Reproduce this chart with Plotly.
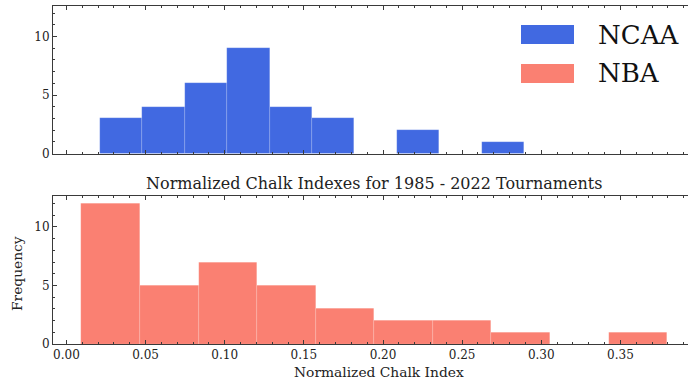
import plotly.graph_objects as go
from plotly.subplots import make_subplots

# ---- data ----
ncaa_edges = [0.0210, 0.0478, 0.0747, 0.1015, 0.1283, 0.1551, 0.1819, 0.2087, 0.2355, 0.2623, 0.2891]
ncaa_counts = [3, 4, 6, 9, 4, 3, 0, 2, 0, 1]
nba_edges = [0.0095, 0.0465, 0.0835, 0.1205, 0.1575, 0.1945, 0.2315, 0.2685, 0.3055, 0.3425, 0.3795]
nba_counts = [12, 5, 7, 5, 3, 2, 2, 1, 0, 1]
x_ticks = [0.00, 0.05, 0.10, 0.15, 0.20, 0.25, 0.30, 0.35]
x_tick_labels = ["0.00", "0.05", "0.10", "0.15", "0.20", "0.25", "0.30", "0.35"]
y_ticks = [0, 5, 10]

series_names = ["NCAA", "NBA"]
series_colors = ["#4169E1", "#FA8072"]

title_text = "Normalized Chalk Indexes for 1985 - 2022 Tournaments"
x_title = "Normalized Chalk Index"
y_title = "Frequency"

FONT = "DejaVu Serif"
AX = "#3a3a3a"

W, H = 688, 382
ML, MR, MT, MB = 53, 0, 6, 38

def centers(edges):
    return [(a + b) / 2 for a, b in zip(edges[:-1], edges[1:])]

def widths(edges):
    return [b - a for a, b in zip(edges[:-1], edges[1:])]

fig = make_subplots(rows=2, cols=1, shared_xaxes=True, vertical_spacing=0.128)

edge_line = dict(color="rgba(255,255,255,0.3)", width=0.5)
fig.add_trace(go.Bar(x=centers(ncaa_edges), y=ncaa_counts, width=widths(ncaa_edges),
                     marker=dict(color=series_colors[0], line=edge_line),
                     name=series_names[0], showlegend=False), row=1, col=1)
fig.add_trace(go.Bar(x=centers(nba_edges), y=nba_counts, width=widths(nba_edges),
                     marker=dict(color=series_colors[1], line=edge_line),
                     name=series_names[1], showlegend=False), row=2, col=1)

xrange = [-0.0085, 0.3927]
common_x = dict(range=xrange, showline=True, linecolor=AX, linewidth=1, mirror="ticks",
                ticks="inside", ticklen=4, tickcolor=AX, tickwidth=1,
                tickvals=x_ticks, ticktext=x_tick_labels, showgrid=False, zeroline=False,
                automargin=False,
                minor=dict(ticks="inside", ticklen=2, dtick=0.01, tick0=0, tickcolor=AX, tickwidth=1, showgrid=False),
                tickfont=dict(family=FONT, size=12, color="#222"))
common_y = dict(range=[0, 12.6], showline=True, linecolor=AX, linewidth=1,
                ticks="inside", ticklen=4, tickcolor=AX, tickwidth=1,
                tickvals=y_ticks, showgrid=False, zeroline=False, automargin=False,
                minor=dict(ticks="inside", ticklen=2, dtick=1, tick0=0, tickcolor=AX, tickwidth=1, showgrid=False),
                tickfont=dict(family=FONT, size=12, color="#222"))

fig.update_xaxes(**common_x)
fig.update_xaxes(showticklabels=False, row=1, col=1)
fig.update_yaxes(**common_y)

plot_h = H - MT - MB
sub_h = 147.6 / plot_h
fig.update_layout(
    yaxis=dict(domain=[1 - sub_h, 1]),
    yaxis2=dict(domain=[0, sub_h]),
)

fig.update_layout(
    width=W, height=H,
    margin=dict(l=ML, r=MR, t=MT, b=MB, autoexpand=False),
    plot_bgcolor="white", paper_bgcolor="white",
    bargap=0, showlegend=False,
    font=dict(family=FONT, color="#222"),
)

def px_x(px):
    return (px - ML) / (W - ML - MR)

def px_y(py):
    return (H - MB - py) / plot_h

annotations = [
    dict(text=title_text, x=px_x(374), y=px_y(183), xref="paper", yref="paper",
         showarrow=False, font=dict(family=FONT, size=16, color="#222"), xanchor="center", yanchor="middle"),
    dict(text=x_title, x=px_x(379), y=px_y(372), xref="paper", yref="paper",
         showarrow=False, font=dict(family=FONT, size=13.8, color="#222"), xanchor="center", yanchor="middle"),
    dict(text=y_title, x=px_x(17), y=px_y(274), xref="paper", yref="paper", textangle=-90,
         showarrow=False, font=dict(family=FONT, size=13.8, color="#222"), xanchor="center", yanchor="middle"),
]
shapes = []
legend_rows = [(25, 44), (64, 83)]
for name, color, (y0, y1) in zip(series_names, series_colors, legend_rows):
    shapes.append(dict(type="rect", xref="paper", yref="paper",
                       x0=px_x(521), x1=px_x(574), y0=px_y(y1), y1=px_y(y0),
                       fillcolor=color, line=dict(width=0)))
    annotations.append(dict(text=name, x=px_x(596), y=px_y((y0 + y1) / 2), xref="paper", yref="paper",
                            showarrow=False, xanchor="left", yanchor="middle",
                            font=dict(family=FONT, size=26, color="#111")))

fig.update_layout(annotations=annotations, shapes=shapes)

fig.write_html("out.html", config={"displayModeBar": False},
               post_script="document.body.style.margin='0';document.body.style.overflow='hidden';")
